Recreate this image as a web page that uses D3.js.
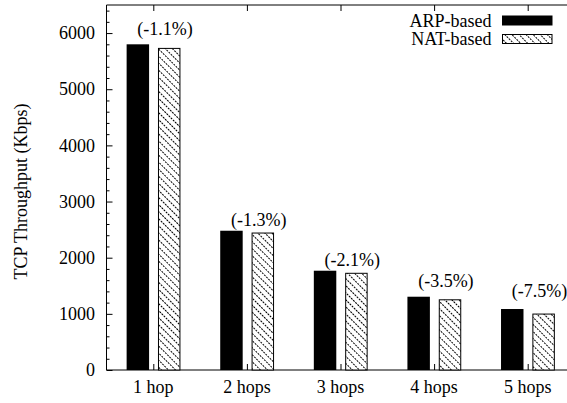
<!DOCTYPE html>
<html>
<head>
<meta charset="utf-8">
<script src="https://cdn.jsdelivr.net/npm/d3@7"></script>
<style>
  html, body { margin: 0; padding: 0; background: #fff; }
  svg { display: block; }
</style>
</head>
<body>
<script>
// TCP throughput per hop count, ARP-based vs NAT-based forwarding
const categories = ["1 hop", "2 hops", "3 hops", "4 hops", "5 hops"];
const arpValues = [5800, 2480, 1768, 1305, 1086];
const natValues = [5736, 2448, 1731, 1259, 1005];
const diffLabels = ["(-1.1%)", "(-1.3%)", "(-2.1%)", "(-3.5%)", "(-7.5%)"];
const diffLabelY = [6060, 2662, 1960, 1572, 1406];
const yTicks = [0, 1000, 2000, 3000, 4000, 5000, 6000];
const seriesNames = ["ARP-based", "NAT-based"];

const FONT = "'Liberation Serif'";
const W = 567, H = 403;
const margin = { left: 106.5, top: 5, bottom: 33 };
const unit = 93.6;

const svg = d3.select("body").append("svg").attr("width", W).attr("height", H);

// hatch fill: dashed "\" diagonals
const defs = svg.append("defs");
const pat = defs.append("pattern")
  .attr("id", "hatch")
  .attr("patternUnits", "userSpaceOnUse")
  .attr("width", 3).attr("height", 5)
  .attr("patternTransform", "rotate(45)");
pat.append("rect").attr("width", 3).attr("height", 5).attr("fill", "#fff");
pat.append("line")
  .attr("x1", 0).attr("x2", 2).attr("y1", 2.5).attr("y2", 2.5)
  .attr("stroke", "#000").attr("stroke-width", 1);

const x = d3.scaleLinear()
  .domain([0.5, categories.length + 0.5])
  .range([margin.left, margin.left + categories.length * unit]);
const y = d3.scaleLinear().domain([0, 6500]).range([H - margin.bottom, margin.top]);

const plotRight = x(categories.length + 0.5);
const barW = 0.24 * unit;

// plot frame: bottom, left, top
const frame = svg.append("g").attr("stroke", "#000").attr("stroke-width", 1).attr("fill", "none");
frame.append("line").attr("x1", margin.left).attr("x2", plotRight).attr("y1", y(0)).attr("y2", y(0));
frame.append("line").attr("x1", margin.left).attr("x2", margin.left).attr("y1", y(0)).attr("y2", y(6500));
frame.append("line").attr("x1", margin.left).attr("x2", plotRight).attr("y1", y(6500)).attr("y2", y(6500));

// y axis with inward major and minor ticks
const yMinor = d3.range(0, 6500 + 1, 200).filter(v => v % 1000 !== 0);
const yAxis = svg.append("g").attr("transform", `translate(${margin.left},0)`)
  .call(d3.axisRight(y).tickValues(yTicks).tickSize(6).tickFormat(""));
yAxis.select(".domain").remove();
const yMinorAxis = svg.append("g").attr("transform", `translate(${margin.left},0)`)
  .call(d3.axisRight(y).tickValues(yMinor).tickSize(3).tickFormat(""));
yMinorAxis.select(".domain").remove();

const textStyle = sel => sel.attr("font-family", FONT).attr("font-size", 18).attr("fill", "#000");

svg.append("g").selectAll("text").data(yTicks).join("text")
  .attr("x", margin.left - 11.5)
  .attr("y", d => y(d))
  .attr("dy", "0.34em")
  .attr("text-anchor", "end")
  .call(textStyle)
  .text(d => d);

// x ticks at category centres, bottom (pointing up) and top (pointing down)
const xVals = categories.map((c, i) => i + 1);
const xBottom = svg.append("g").attr("transform", `translate(0,${y(0)})`)
  .call(d3.axisTop(x).tickValues(xVals).tickSize(6).tickFormat(""));
xBottom.select(".domain").remove();
const xTop = svg.append("g").attr("transform", `translate(0,${y(6500)})`)
  .call(d3.axisBottom(x).tickValues(xVals).tickSize(6).tickFormat(""));
xTop.select(".domain").remove();

svg.append("g").selectAll("text").data(categories).join("text")
  .attr("x", (d, i) => x(i + 1))
  .attr("y", 393)
  .attr("text-anchor", "middle")
  .call(textStyle)
  .text(d => d);

// y axis title
svg.append("text")
  .attr("transform", `translate(27,${(y(0) + y(6500)) / 2 + 4}) rotate(-90)`)
  .attr("text-anchor", "middle")
  .call(textStyle)
  .text("TCP Throughput (Kbps)");

// bars
const bars = svg.append("g");
bars.selectAll("rect.arp").data(arpValues).join("rect")
  .attr("class", "arp")
  .attr("x", (d, i) => x(i + 1) - 0.285 * unit)
  .attr("y", d => y(d))
  .attr("width", barW)
  .attr("height", d => y(0) - y(d))
  .attr("fill", "#000");
bars.selectAll("rect.nat").data(natValues).join("rect")
  .attr("class", "nat")
  .attr("x", (d, i) => x(i + 1) + 0.05 * unit + 0.5)
  .attr("y", d => y(d) + 0.5)
  .attr("width", barW - 1)
  .attr("height", d => y(0) - y(d) - 0.5)
  .attr("fill", "url(#hatch)")
  .attr("stroke", "#000")
  .attr("stroke-width", 1);

// percentage difference labels, left-aligned at the ARP bar centre
svg.append("g").selectAll("text").data(diffLabels).join("text")
  .attr("x", (d, i) => x(i + 1) - 0.285 * unit + barW / 2 - 0.5)
  .attr("y", (d, i) => y(diffLabelY[i]))
  .attr("dy", "0.32em")
  .attr("text-anchor", "start")
  .call(textStyle)
  .text(d => d);

// legend
const legend = svg.append("g");
seriesNames.forEach((name, i) => {
  const cy = 20.5 + i * 18.5;
  legend.append("text")
    .attr("x", 491.5).attr("y", cy).attr("dy", "0.34em")
    .attr("text-anchor", "end")
    .call(textStyle)
    .text(name);
  legend.append("rect")
    .attr("x", 502.5).attr("y", cy - 4.5)
    .attr("width", 49.5).attr("height", 9)
    .attr("fill", i === 0 ? "#000" : "url(#hatch)")
    .attr("stroke", "#000").attr("stroke-width", 1);
});
</script>
</body>
</html>
